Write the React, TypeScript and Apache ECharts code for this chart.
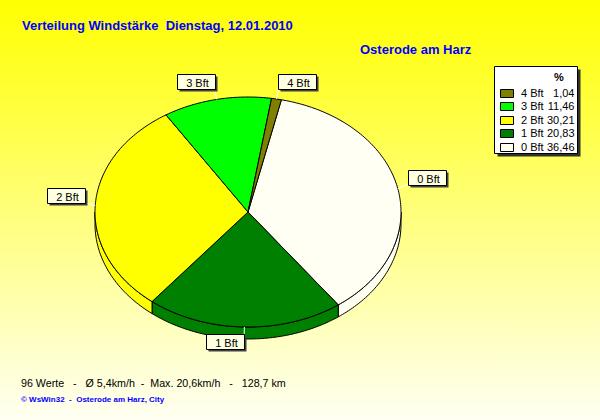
import React, { useEffect, useRef } from 'react';
import * as echarts from 'echarts';

// ---- data ----
const categories = ['0 Bft', '1 Bft', '2 Bft', '3 Bft', '4 Bft'];
const percents = [36.46, 20.83, 30.21, 11.46, 1.04];
const sliceColors = ['#FFFFF4', '#008000', '#FFFF00', '#00FF00', '#808000'];
const legendHeader = '%';
const titleText = 'Verteilung Windstärke\u00A0\u00A0Dienstag, 12.01.2010';
const placeText = 'Osterode am Harz';
const statsText =
  '96 Werte\u00A0\u00A0\u00A0-\u00A0\u00A0\u00A0Ø 5,4km/h\u00A0\u00A0-\u00A0\u00A0Max. 20,6km/h\u00A0\u00A0\u00A0-\u00A0\u00A0\u00A0128,7 km';
const creditText = '© WsWin32\u00A0\u00A0-\u00A0\u00A0Osterode am Harz, City';

// ---- layout ----
const P = { cx: 248, cy: 212, rx: 153, ry: 115, depth: 12, start: 12.6 };
const FONT = '"Liberation Sans", Arial, sans-serif';
const BOX_W = 38;
const BOX_H = 15;

const fmt = (v: number) => v.toFixed(2).replace('.', ',');

export default function App() {
  const ref = useRef<HTMLDivElement>(null);

  useEffect(() => {
    document.body.style.margin = '0';
    const chart = echarts.init(ref.current!, null, { renderer: 'svg' });

    const total = percents.reduce((a, b) => a + b, 0);
    const cum: number[] = [];
    percents.reduce((acc, v, i) => {
      cum[i] = acc;
      return acc + v;
    }, 0);

    const rad = (d: number) => (d * Math.PI) / 180;
    const pt = (d: number, dy = 0) => [
      P.cx + P.rx * Math.sin(rad(d)),
      P.cy - P.ry * Math.cos(rad(d)) + dy,
    ];
    const arc = (a: number, b: number, dy = 0) => {
      const n = Math.max(2, Math.ceil(Math.abs(b - a)));
      const out: number[][] = [];
      for (let k = 0; k <= n; k++) out.push(pt(a + ((b - a) * k) / n, dy));
      return out;
    };

    const renderItem = (params: any, api: any) => {
      const i = params.dataIndex;
      const v = api.value(0) as number;
      const c0 = api.value(1) as number;
      const color = sliceColors[i];
      const t0 = P.start + (c0 / total) * 360;
      const t1 = t0 + (v / total) * 360;
      const children: any[] = [];
      for (const [lo, hi] of [
        [90, 270],
        [450, 630],
      ]) {
        const a = Math.max(t0, lo);
        const b = Math.min(t1, hi);
        if (b > a) {
          children.push({
            type: 'polygon',
            z2: 1,
            shape: { points: [...arc(a, b), ...arc(b, a, P.depth)] },
            style: { fill: color, stroke: '#000', lineWidth: 1 },
          });
        }
      }
      children.push({
        type: 'polygon',
        z2: 5,
        shape: { points: [[P.cx, P.cy], ...arc(t0, t1)] },
        style: { fill: color, stroke: '#000', lineWidth: 1 },
      });

      // label
      const m = (t0 + t1) / 2;
      const s = Math.sin(rad(m));
      const c = Math.cos(rad(m));
      const [ax, ay] = pt(m);
      const cornerX = ax + 10 * s;
      let cornerY: number;
      let boxY: number;
      if (c >= 0) {
        cornerY = ay - 10 * c - 2 * Math.abs(s);
        boxY = cornerY - BOX_H;
      } else {
        cornerY = ay - 7 * c;
        boxY = cornerY;
      }
      const boxX = s >= 0 ? cornerX : cornerX - BOX_W;
      const bx = Math.round(boxX) + 0.5;
      const by = Math.round(boxY) + 0.5;
      children.push({
        type: 'line',
        z2: 8,
        shape: { x1: ax, y1: ay, x2: cornerX, y2: cornerY },
        style: { stroke: '#FFFFFF', lineWidth: 1 },
      });
      children.push({
        type: 'rect',
        z2: 9,
        shape: { x: bx + 2, y: by + 2, width: BOX_W, height: BOX_H },
        style: { fill: '#404040' },
      });
      children.push({
        type: 'rect',
        z2: 10,
        shape: { x: bx, y: by, width: BOX_W, height: BOX_H },
        style: { fill: '#FFFFE1', stroke: '#000', lineWidth: 1 },
      });
      children.push({
        type: 'text',
        z2: 11,
        x: bx + BOX_W / 2 + 1,
        y: by + BOX_H / 2 + 0.5,
        style: {
          text: categories[i],
          fill: '#000',
          font: `11px ${FONT}`,
          align: 'center',
          verticalAlign: 'middle',
          textAlign: 'center',
          textVerticalAlign: 'middle',
        },
      });
      return { type: 'group', children };
    };

    // legend graphics (built from the data arrays, reversed order)
    const L = { x: 494.5, y: 66.5, w: 83, h: 87, row0: 92.5, step: 13.6 };
    const legendEls: any[] = [
      {
        type: 'rect',
        shape: { x: L.x + 3, y: L.y + 3, width: L.w, height: L.h },
        style: { fill: '#303030' },
      },
      {
        type: 'rect',
        shape: { x: L.x, y: L.y, width: L.w, height: L.h },
        style: { fill: '#FFFFFF', stroke: '#000', lineWidth: 1 },
      },
      {
        type: 'text',
        x: 559,
        y: 76.5,
        style: {
          text: legendHeader,
          fill: '#000',
          font: `bold 11px ${FONT}`,
          align: 'center',
          verticalAlign: 'middle',
        },
      },
    ];
    const order = categories.map((_, i) => i).reverse();
    order.forEach((idx, r) => {
      const yc = L.row0 + r * L.step;
      legendEls.push({
        type: 'rect',
        shape: { x: 500.5, y: Math.round(yc - 4) + 0.5, width: 13, height: 8 },
        style: { fill: sliceColors[idx], stroke: '#000', lineWidth: 1 },
      });
      legendEls.push({
        type: 'text',
        x: 521,
        y: yc,
        style: {
          text: categories[idx],
          fill: '#000',
          font: `11px ${FONT}`,
          align: 'left',
          verticalAlign: 'middle',
        },
      });
      legendEls.push({
        type: 'text',
        x: 574.5,
        y: yc,
        style: {
          text: fmt(percents[idx]),
          fill: '#000',
          font: `11px ${FONT}`,
          align: 'right',
          verticalAlign: 'middle',
        },
      });
    });

    const option: any = {
      animation: false,
      backgroundColor: {
        type: 'linear',
        x: 0,
        y: 0,
        x2: 0,
        y2: 1,
        colorStops: [
          { offset: 0, color: '#FFFF00' },
          { offset: 1, color: '#FFFFF2' },
        ],
      },
      graphic: [
        {
          type: 'text',
          x: 22,
          y: 25,
          style: {
            text: titleText,
            fill: '#0000FF',
            font: `bold 13px ${FONT}`,
            align: 'left',
            verticalAlign: 'middle',
          },
        },
        {
          type: 'text',
          x: 360,
          y: 49,
          style: {
            text: placeText,
            fill: '#0000FF',
            font: `bold 13px ${FONT}`,
            align: 'left',
            verticalAlign: 'middle',
          },
        },
        {
          type: 'text',
          x: 21,
          y: 382.5,
          style: {
            text: statsText,
            fill: '#000',
            font: `10.7px ${FONT}`,
            align: 'left',
            verticalAlign: 'middle',
          },
        },
        {
          type: 'text',
          x: 21,
          y: 399.5,
          style: {
            text: creditText,
            fill: '#0000FF',
            font: `bold 8px ${FONT}`,
            align: 'left',
            verticalAlign: 'middle',
          },
        },
        ...legendEls,
      ],
      series: [
        {
          type: 'custom',
          coordinateSystem: 'none',
          renderItem,
          data: percents.map((v, i) => ({ name: categories[i], value: [v, cum[i]] })),
        },
      ],
    };

    chart.setOption(option);
    return () => chart.dispose();
  }, []);

  return <div ref={ref} style={{ width: 600, height: 420 }} />;
}
